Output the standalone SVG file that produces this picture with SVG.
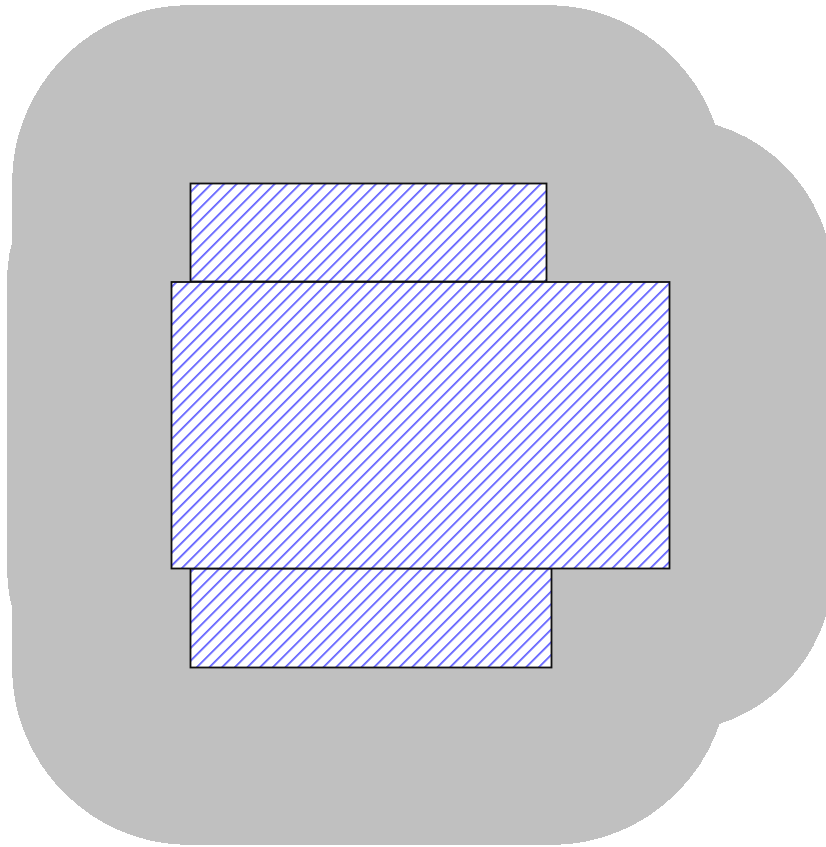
<svg xmlns="http://www.w3.org/2000/svg" width="826" height="847" viewBox="0 0 826 847">
  <style>
    .halo { fill: #c0c0c0; stroke: none; shape-rendering: crispEdges; }
    .box { fill: url(#hatch); stroke: #111111; stroke-width: 1.8; }
  </style>
  <defs>
    <pattern id="hatchLines" patternUnits="userSpaceOnUse" width="8.957" height="10" patternTransform="rotate(45)">
      <rect x="0" y="0" width="8.957" height="10" fill="#ffffff"/>
      <line x1="1.89" y1="-1" x2="1.89" y2="11" stroke="#0000ff" stroke-width="1.1"/>
    </pattern>
    <pattern id="hatch" href="#hatchLines"/>
  </defs>
  <rect width="826" height="847" fill="#ffffff"/>
  <g id="halo">
    <rect class="halo" x="12" y="5" width="713" height="455" rx="178" ry="178"/>
    <rect class="halo" x="7" y="118" width="826" height="614" rx="164" ry="164"/>
    <rect class="halo" x="12" y="390" width="717" height="455" rx="178" ry="178"/>
  </g>
  <g id="box-top">
    <rect class="box" x="190.5" y="183.5" width="356" height="98"/>
  </g>
  <g id="box-bottom">
    <rect class="box" x="190.5" y="568.5" width="361" height="99"/>
  </g>
  <g id="box-middle">
    <rect class="box" x="171.5" y="282" width="498" height="286.5"/>
  </g>
</svg>
